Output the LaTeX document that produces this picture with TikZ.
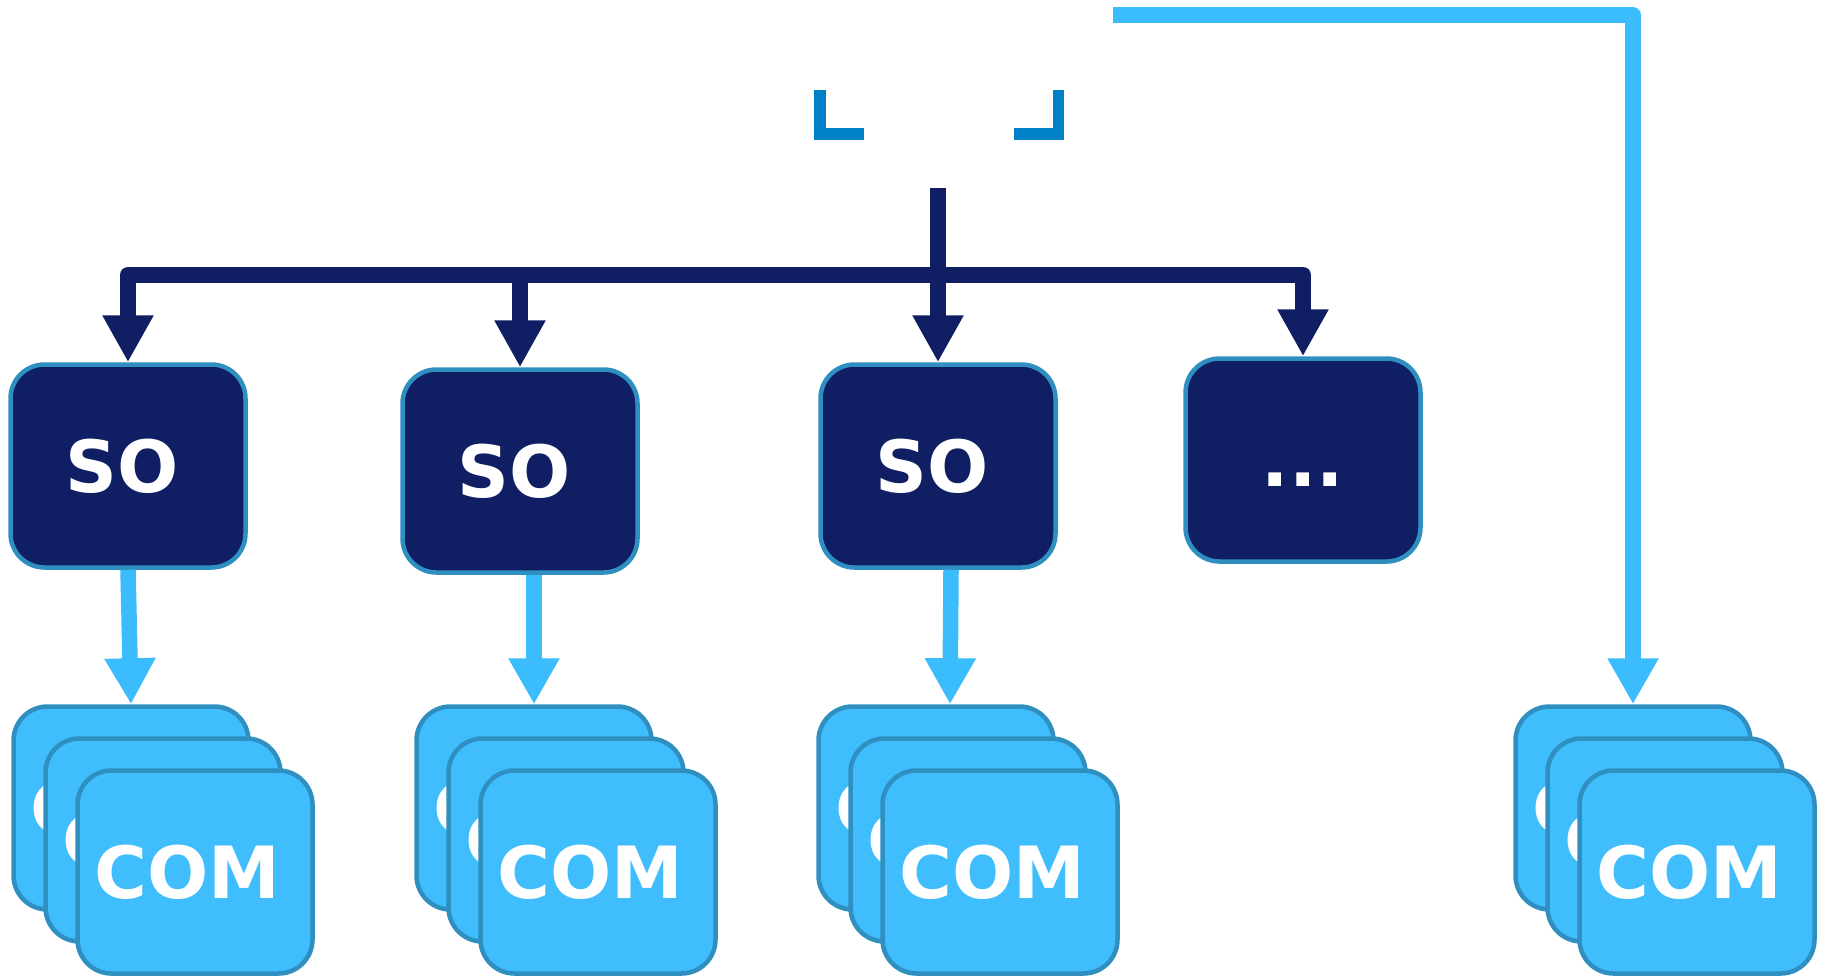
\documentclass[tikz,border=0pt]{standalone}
\usepackage{fontspec}
\setsansfont{DejaVu Sans}
\usetikzlibrary{
    arrows.meta,
    positioning
}
\definecolor{navy}{RGB}{16,30,100}
\definecolor{rim}{RGB}{46,143,192}
\definecolor{sky}{RGB}{63,189,253}
\definecolor{feedblue}{RGB}{59,188,252}
\definecolor{markblue}{RGB}{0,128,198}
\tikzset{
    box/.style={
        shape=rectangle, rounded corners=17pt, draw=rim, line width=2.25pt,
        minimum width=117.5pt, minimum height=101.5pt, inner sep=0pt,
        text=white, text height=26.5pt, text depth=0pt,
        font=\sffamily\bfseries\fontsize{36}{40}\selectfont
    },
    so box/.style={
        box, fill=navy
    },
    com box/.style={
        box, fill=sky
    },
    tree arrow/.style={
        draw=navy, line width=8pt, line join=round,
        -{Triangle[width=24pt,length=23.5pt]}
    },
    feed arrow/.style={
        draw=feedblue, line width=7.75pt, line join=round,
        -{Triangle[width=24pt,length=23pt]}
    },
    corner mark/.style={
        draw=markblue, line width=5.75pt, line join=miter
    },
}

\begin{document}
\begin{tikzpicture}[x=0.5pt,y=-0.5pt]
    \useasboundingbox (0,0) rectangle (1823,976);

    % corner marks
    \draw[corner mark] (820,90) -- (820,134) -- (864,134);
    \draw[corner mark] (1058.5,90) -- (1058.5,134) -- (1014,134);

    % service nodes
    \node[so box] (so1) at (128,466) {SO\kern6pt};
    \node[so box] (so2) at (520,471) {SO\kern6pt};
    \node[so box] (so3) at (938,466) {SO\kern6pt};
    \node[so box] (dots) at (1303,460) {...};

    % component stacks
    \foreach \x/\n in {131/1,534/2,936/3,1633/4} {
        \node[com box] (com\n a) at (\x,808) {COM\kern8pt};
        \node[com box] (com\n b) at (\x+32,840) {COM\kern8pt};
        \node[com box] (com\n c) at (\x+64,872) {COM\kern8pt};
    }

    % tree
    \coordinate (top) at (938,188);
    \coordinate (fork) at (938,275);
    \draw[tree arrow] (fork) -| (so1);
    \draw[tree arrow] (fork) -| (so2);
    \draw[tree arrow] (fork) -| (dots);
    \draw[tree arrow] (top) -- (so3);

    % feeds
    \draw[feed arrow] (so1.south) -- (com1a.north);
    \draw[feed arrow] (com2a.north |- so2.south) -- (com2a.north);
    \draw[feed arrow] ([xshift=6.5pt]so3.south) -- ([xshift=7pt]com3a.north);
    \coordinate (feed) at (1113,15);
    \draw[feed arrow] (feed) -| (com4a);
\end{tikzpicture}
\end{document}
